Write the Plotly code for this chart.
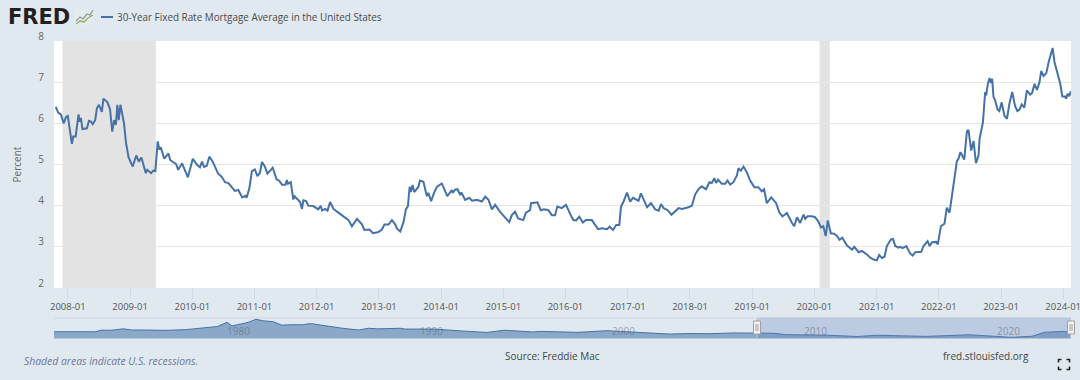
import plotly.graph_objects as go

series_name = "30-Year Fixed Rate Mortgage Average in the United States"
y_title = "Percent"
source_text = "Source: Freddie Mac"
site_text = "fred.stlouisfed.org"
recession_note = "Shaded areas indicate U.S. recessions."

rate_points = """
2007-10-22 6.40;2007-11-06 6.26;2007-11-22 6.21;2007-12-08 6.00;2007-12-21 6.15;2008-01-01 6.18;2008-01-25 5.50;2008-02-02 5.68;2008-02-16 5.68;
2008-03-04 6.22;2008-03-10 6.04;2008-03-18 6.13;2008-03-27 5.86;2008-04-22 5.88;2008-05-04 6.06;2008-05-16 6.04;2008-05-27 5.98;2008-06-10 6.08;
2008-06-20 6.37;2008-07-02 6.45;2008-07-19 6.28;2008-07-28 6.60;2008-08-21 6.51;2008-09-05 6.34;2008-09-18 5.80;2008-09-29 6.08;2008-10-09 5.96;
2008-10-18 6.45;2008-10-26 6.08;2008-11-05 6.45;2008-11-26 6.00;2008-12-08 5.52;2008-12-23 5.17;
2009-01-16 4.95;2009-02-06 5.22;2009-02-21 5.07;2009-03-08 5.17;2009-04-03 4.79;2009-04-12 4.87;2009-05-04 4.79;2009-05-17 4.85;2009-05-29 4.84;
2009-06-12 5.56;2009-06-22 5.36;2009-06-30 5.42;2009-07-20 5.14;2009-08-14 5.27;2009-08-24 5.11;2009-09-28 5.01;2009-10-10 4.87;2009-11-02 5.03;2009-12-06 4.69;
2010-01-04 5.14;2010-01-27 5.00;2010-02-15 4.93;2010-02-27 5.07;2010-03-11 4.94;2010-03-27 4.97;2010-04-11 5.19;2010-05-01 5.07;2010-05-31 4.79;
2010-06-25 4.69;2010-07-12 4.57;2010-08-01 4.55;2010-09-08 4.36;2010-09-28 4.38;2010-10-21 4.20;2010-11-10 4.24;2010-11-16 4.19;2010-12-02 4.42;2010-12-17 4.84;
2011-01-03 4.88;2011-01-18 4.72;2011-02-02 4.80;2011-02-14 5.06;2011-03-02 4.96;2011-03-18 4.78;2011-04-02 4.86;2011-04-18 4.92;2011-05-11 4.64;
2011-05-27 4.60;2011-06-12 4.51;2011-07-02 4.51;2011-07-10 4.62;2011-07-17 4.53;2011-08-02 4.57;2011-08-17 4.15;2011-08-25 4.23;2011-09-26 4.09;
2011-10-07 3.92;2011-10-15 4.13;2011-10-31 4.11;2011-11-13 4.00;2011-12-12 3.99;
2012-01-11 3.91;2012-01-25 4.00;2012-02-02 3.88;2012-02-20 3.92;2012-03-05 3.88;2012-03-20 4.09;2012-04-09 3.92;2012-05-08 3.83;2012-06-17 3.71;
2012-07-06 3.65;2012-07-26 3.50;2012-08-25 3.68;2012-09-24 3.54;2012-10-07 3.41;2012-11-06 3.42;2012-11-27 3.33;2012-12-29 3.36;
2013-01-18 3.42;2013-02-02 3.54;2013-02-26 3.54;2013-03-18 3.65;2013-04-07 3.54;2013-04-17 3.44;2013-05-06 3.37;2013-05-25 3.60;2013-06-08 3.91;
2013-06-20 3.99;2013-06-30 4.46;2013-07-07 4.33;2013-07-17 4.50;2013-07-27 4.33;2013-08-21 4.46;2013-08-29 4.61;2013-09-19 4.58;2013-10-09 4.23;
2013-10-18 4.31;2013-11-03 4.11;2013-11-22 4.33;2013-12-08 4.46;
2014-01-05 4.54;2014-02-06 4.23;2014-03-05 4.38;2014-03-10 4.31;2014-03-24 4.39;2014-04-07 4.40;2014-04-23 4.26;2014-04-30 4.32;2014-05-22 4.14;
2014-06-15 4.19;2014-07-01 4.12;2014-07-30 4.14;2014-08-28 4.10;2014-09-17 4.22;2014-10-06 4.14;2014-10-26 3.91;2014-11-14 4.02;2014-12-13 3.85;
2015-01-11 3.72;2015-02-05 3.60;2015-02-20 3.77;2015-03-11 3.85;2015-03-29 3.69;2015-04-28 3.65;2015-05-14 3.83;2015-06-07 3.89;2015-06-13 4.06;
2015-07-20 4.08;2015-08-09 3.89;2015-08-28 3.91;2015-09-23 3.89;2015-10-13 3.77;2015-11-01 3.77;2015-11-14 3.98;2015-12-10 3.94;
2016-01-04 4.02;2016-02-01 3.77;2016-02-16 3.65;2016-03-03 3.64;2016-03-22 3.73;2016-04-12 3.59;2016-04-30 3.65;2016-06-04 3.65;2016-07-10 3.43;
2016-08-02 3.45;2016-09-01 3.43;2016-09-16 3.49;2016-10-06 3.41;2016-10-25 3.53;2016-11-12 3.53;2016-11-22 3.98;2016-12-07 4.10;2016-12-27 4.32;
2017-01-15 4.10;2017-01-31 4.19;2017-03-05 4.12;2017-03-19 4.30;2017-04-08 4.10;2017-04-24 3.96;2017-05-17 4.06;2017-06-11 3.91;2017-07-01 3.88;
2017-07-15 4.04;2017-07-30 3.94;2017-08-23 3.89;2017-09-14 3.78;2017-10-13 3.89;2017-10-26 3.94;2017-11-15 3.92;2017-12-04 3.94;2017-12-23 3.96;
2018-01-12 4.00;2018-01-31 4.27;2018-02-20 4.40;2018-03-11 4.47;2018-04-05 4.40;2018-04-25 4.57;2018-05-09 4.55;2018-05-24 4.67;2018-06-03 4.55;
2018-06-15 4.63;2018-07-07 4.53;2018-07-27 4.53;2018-08-09 4.61;2018-08-25 4.51;2018-09-13 4.57;2018-10-03 4.73;2018-10-13 4.91;2018-10-27 4.85;
2018-11-11 4.95;2018-12-01 4.81;2018-12-20 4.61;
2019-01-14 4.45;2019-02-06 4.45;2019-02-26 4.35;2019-03-12 4.40;2019-03-28 4.06;2019-04-23 4.20;2019-05-22 4.06;2019-06-09 3.84;2019-06-28 3.74;
2019-07-11 3.78;2019-07-24 3.82;2019-08-23 3.58;2019-09-05 3.50;2019-09-21 3.72;2019-10-10 3.58;2019-10-30 3.78;2019-11-09 3.68;2019-11-22 3.74;2019-12-18 3.74;
2020-01-05 3.72;2020-01-24 3.62;2020-02-09 3.47;2020-02-23 3.50;2020-03-08 3.26;2020-03-20 3.64;2020-04-07 3.33;2020-04-26 3.32;2020-05-12 3.27;
2020-05-28 3.17;2020-06-13 3.22;2020-07-11 3.03;2020-08-09 2.93;2020-08-23 3.00;2020-09-17 2.87;2020-10-07 2.90;2020-11-06 2.81;2020-11-26 2.73;2020-12-15 2.69;
2021-01-02 2.67;2021-01-16 2.80;2021-02-01 2.73;2021-02-16 2.76;2021-03-02 3.02;2021-03-26 3.18;2021-04-07 3.19;2021-04-20 3.02;2021-05-09 2.98;
2021-05-19 3.00;2021-06-02 2.97;2021-06-24 3.02;2021-07-17 2.84;2021-07-31 2.79;2021-08-16 2.87;2021-09-20 2.88;2021-10-03 3.02;2021-10-27 3.14;
2021-11-08 3.02;2021-11-22 3.11;2021-12-17 3.12;2021-12-26 3.06;
2022-01-13 3.50;2022-02-03 3.56;2022-02-17 3.95;2022-03-05 3.83;2022-03-19 4.23;2022-04-01 4.67;2022-04-17 5.08;2022-04-26 5.14;2022-05-08 5.30;
2022-05-30 5.12;2022-06-15 5.81;2022-06-24 5.84;2022-07-10 5.34;2022-07-24 5.57;2022-08-07 5.03;2022-08-22 5.22;2022-08-28 5.62;2022-09-17 6.03;
2022-09-30 6.76;2022-10-06 6.68;2022-10-16 6.96;2022-10-26 7.10;2022-11-03 6.98;2022-11-10 7.08;2022-11-18 6.64;2022-11-28 6.55;2022-12-12 6.33;2022-12-22 6.30;
2023-01-05 6.51;2023-01-21 6.19;2023-02-05 6.11;2023-02-19 6.47;2023-03-08 6.76;2023-03-24 6.43;2023-04-07 6.30;2023-04-19 6.33;2023-05-03 6.46;
2023-05-18 6.38;2023-06-02 6.80;2023-06-21 6.70;2023-07-03 6.74;2023-07-17 6.96;2023-07-31 6.81;2023-08-15 7.00;2023-08-25 7.27;2023-09-08 7.15;
2023-09-24 7.22;2023-10-08 7.49;2023-10-31 7.83;2023-11-11 7.49;2023-11-29 7.24;2023-12-15 6.96;2023-12-27 6.65;
2024-01-12 6.65;2024-01-18 6.60;2024-01-28 6.72;2024-02-05 6.66;2024-02-16 6.78
"""
pairs = [p.split() for p in rate_points.replace("\n", "").split(";")]
dates = [p[0] for p in pairs]
rates = [float(p[1]) for p in pairs]

history_dates = ["1971-04-01","1973-06-01","1973-09-01","1974-04-01","1974-11-01","1975-05-01","1976-01-01","1977-02-01","1978-02-01","1979-03-01",
    "1979-10-01","1980-04-01","1980-07-01","1980-12-01","1981-05-01","1981-10-01","1982-02-01","1982-09-01","1983-02-01","1983-08-01","1984-03-01",
    "1984-08-01","1985-03-01","1986-04-01","1987-02-01","1987-08-01","1988-02-01","1989-04-01","1989-07-01","1991-01-01","1992-06-01","1993-10-01",
    "1994-09-01","1995-07-01","1996-03-01","1996-07-01","1997-08-01","1998-07-01","2000-01-01","2001-03-01","2003-04-01","2004-05-01","2005-05-01",
    "2006-08-01","2007-09-01","2008-09-01","2009-05-01","2011-07-01","2013-01-01","2014-01-01","2016-08-01","2018-11-01","2021-01-01","2022-02-01",
    "2022-10-01","2023-10-01","2024-02-01"]
history_rates = [7.5,7.5,8.8,8.8,10.0,9.0,9.0,8.7,9.3,10.7,12.0,15.6,12.5,14.0,15.5,18.2,17.0,16.0,13.2,13.5,13.5,14.5,13.0,10.5,9.0,10.5,10.0,10.5,9.8,
    9.8,8.2,6.9,8.8,7.8,7.3,7.8,7.5,7.0,8.4,7.2,5.5,6.0,5.8,6.5,6.3,6.2,5.0,4.5,3.4,4.5,3.5,4.9,2.7,3.6,7.0,7.8,6.8]

recessions = [("2007-12-01", "2009-06-01"), ("2020-02-01", "2020-04-01")]
year_ticks = [f"{y}-01-01" for y in range(2008, 2025)]
year_labels = [f"{y}-01" for y in range(2008, 2025)]
y_ticks = [2, 3, 4, 5, 6, 7, 8]
nav_labels = [1980, 1990, 2000, 2010, 2020]

W, H = 1080, 380
BG = "#e1e9f0"
BLUE = "#4572a7"
def X(p): return p / W
def Y(p): return 1 - p / H

fig = go.Figure()
fig.add_trace(go.Scatter(x=dates, y=rates, mode="lines", line=dict(color=BLUE, width=2), name=series_name, xaxis="x", yaxis="y", hoverinfo="x+y"))
fig.add_trace(go.Scatter(x=history_dates, y=history_rates, mode="lines", line=dict(color=BLUE, width=1), fill="tozeroy",
                         fillcolor="rgba(69,114,167,0.55)", xaxis="x2", yaxis="y2", hoverinfo="skip"))

shapes = []
# white plotting panel for the main chart only
shapes.append(dict(type="rect", xref="paper", yref="paper", x0=X(54), x1=X(1071), y0=Y(288), y1=Y(41), fillcolor="#ffffff", line_width=0, layer="below"))
for a, b in recessions:
    shapes.append(dict(type="rect", xref="x", yref="y", x0=a, x1=b, y0=2, y1=8, fillcolor="#e3e3e3", line_width=0, layer="below"))
# navigator selection window and handles
shapes.append(dict(type="rect", xref="paper", yref="paper", x0=X(757), x1=X(1070.5), y0=Y(338.5), y1=Y(318),
                   fillcolor="rgba(102,133,194,0.30)", line=dict(color="#b8c4d6", width=1), layer="above"))
shapes.append(dict(type="line", xref="paper", yref="paper", x0=X(54), x1=X(757), y0=Y(318), y1=Y(318), line=dict(color="#cfd6dc", width=1)))
for hx in (757, 1071):
    shapes.append(dict(type="rect", xref="paper", yref="paper", x0=X(hx - 3.5), x1=X(hx + 3.5), y0=Y(334), y1=Y(321),
                       fillcolor="#f2f2f2", line=dict(color="#a0a0a0", width=1), layer="above"))
    for dx in (-1, 1):
        shapes.append(dict(type="line", xref="paper", yref="paper", x0=X(hx + dx), x1=X(hx + dx), y0=Y(331), y1=Y(324),
                           line=dict(color="#a0a0a0", width=1), layer="above"))
# legend key
shapes.append(dict(type="line", xref="paper", yref="paper", x0=X(101), x1=X(113), y0=Y(17), y1=Y(17), line=dict(color=BLUE, width=2)))
# small logo graph icon
shapes.append(dict(type="rect", xref="paper", yref="paper", x0=X(75), x1=X(93), y0=Y(25), y1=Y(9), fillcolor="#e6ebee", line_width=0))
def poly(pts):
    return "M" + " L".join(f"{X(a):.5f},{Y(b):.5f}" for a, b in pts)
shapes.append(dict(type="path", xref="paper", yref="paper", path=poly([(76, 21), (80, 17), (83, 19), (87, 14), (90, 15), (93, 10)]), line=dict(color="#8f9aa3", width=1.3)))
shapes.append(dict(type="path", xref="paper", yref="paper", path=poly([(76, 24), (80, 21), (84, 22), (88, 18), (93, 15)]), line=dict(color="#8cae62", width=1.3)))
# fullscreen icon corners
for cx, cy, sx, sy in [(1058.5, 359.5, 1, 1), (1069.5, 359.5, -1, 1), (1058.5, 369.5, 1, -1), (1069.5, 369.5, -1, -1)]:
    shapes.append(dict(type="path", xref="paper", yref="paper",
                       path=poly([(cx + 3 * sx, cy), (cx, cy), (cx, cy + 3 * sy)]), line=dict(color="#222222", width=1.5)))

F = "Open Sans"
ann = []
def text(x, y, s, size, color, anchor="left", weight=None, family=F, italic=False):
    fnt = dict(family=family, size=size, color=color)
    if weight:
        fnt["weight"] = weight
    if italic:
        fnt["style"] = "italic"
    ann.append(dict(xref="paper", yref="paper", x=X(x), y=Y(y), text=s, showarrow=False, xanchor=anchor, yanchor="middle", font=fnt, borderpad=0))
text(7, 17, "FRED", 21, "#231f20", weight="bold", family="DejaVu Sans")
text(116, 17, series_name, 9.9, "#4a4a4a")
text(23, 361, recession_note, 10.4, "#6c7a9c", italic=True)
text(504, 356, source_text, 10, "#444444")
text(942, 356, site_text, 10, "#444444")
for yr in nav_labels:
    ann.append(dict(xref="x2", yref="paper", x=f"{yr}-01-01", y=Y(331), text=str(yr), showarrow=False, xanchor="left", yanchor="middle", xshift=3,
                    font=dict(family=F, size=10, color="rgba(90,100,115,0.55)")))

fig.update_layout(
    width=W, height=H, autosize=False, margin=dict(l=0, r=0, t=0, b=0, pad=0, autoexpand=False),
    paper_bgcolor=BG, plot_bgcolor="rgba(0,0,0,0)", showlegend=False, shapes=shapes, annotations=ann,
    font=dict(family=F, size=10, color="#666666"),
    xaxis=dict(domain=[X(54), X(1071)], anchor="y", type="date", range=["2007-10-12", "2024-02-16"], tickvals=year_ticks, ticktext=year_labels,
               ticks="outside", ticklen=10, tickcolor="#cfd9e6", tickfont=dict(family=F, size=9.5, color="#555555"), showgrid=False, zeroline=False, showline=False,
               ticklabeloverflow="allow", automargin=False),
    yaxis=dict(domain=[Y(288), Y(41)], anchor="x", range=[2, 8], tickvals=y_ticks, ticks="", tickfont=dict(family=F, size=10, color="#666666"),
               gridcolor="#e6e6e6", gridwidth=1, zeroline=False, showline=False, ticklabelshift=-5, ticklabelstandoff=9, automargin=False,
               title=dict(text=y_title, standoff=14, font=dict(family=F, size=10, color="#666666"))),
    xaxis2=dict(domain=[X(54), X(1071)], anchor="y2", type="date", range=["1971-04-01", "2024-02-16"], showgrid=False, showticklabels=False, ticks="", zeroline=False),
    yaxis2=dict(domain=[Y(338.5), Y(318)], anchor="x2", range=[1.7, 19.3], showgrid=False, showticklabels=False, ticks="", zeroline=False),
)
fig.write_html("out.html", config=dict(displayModeBar=False), post_script="document.body.style.margin='0';document.documentElement.style.background='%s';" % BG)
